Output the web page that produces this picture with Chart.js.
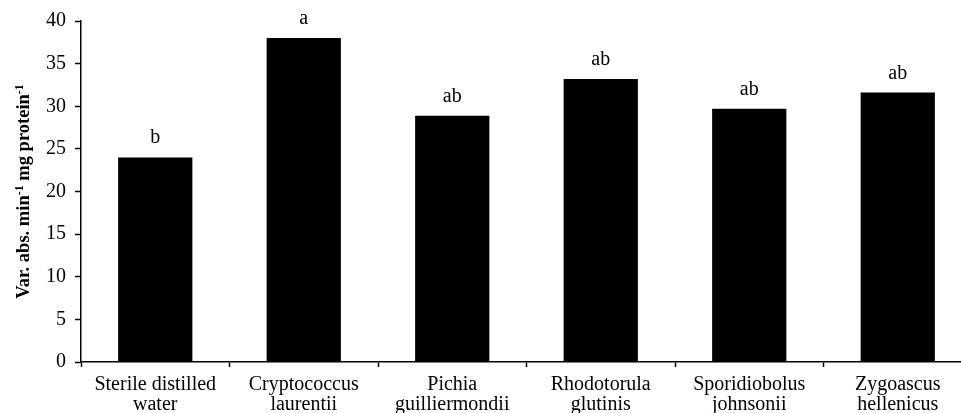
<!DOCTYPE html>
<html>
<head>
<meta charset="utf-8">
<script src="https://cdn.jsdelivr.net/npm/chart.js"></script>
<style>
  html, body { margin: 0; padding: 0; background: #fff; overflow: hidden; }
  #wrap { position: relative; width: 972px; height: 413px; }
</style>
</head>
<body>
<div id="wrap"><canvas id="chart"></canvas></div>
<script>
const categories = [
  ["Sterile distilled", "water"],
  ["Cryptococcus", "laurentii"],
  ["Pichia", "guilliermondii"],
  ["Rhodotorula", "glutinis"],
  ["Sporidiobolus", "johnsonii"],
  ["Zygoascus", "hellenicus"]
];
const values = [24.0, 38.0, 28.9, 33.2, 29.7, 31.6];
const sigLetters = ["b", "a", "ab", "ab", "ab", "ab"];
const yTicks = [0, 5, 10, 15, 20, 25, 30, 35, 40];

const serif = "'Liberation Serif', 'Times New Roman', serif";

// letters above each bar
const letterPlugin = {
  id: "letters",
  afterDatasetsDraw(chart) {
    const ctx = chart.ctx;
    const meta = chart.getDatasetMeta(0);
    ctx.save();
    ctx.font = "20px " + serif;
    ctx.fillStyle = "#000";
    ctx.textAlign = "center";
    ctx.textBaseline = "alphabetic";
    meta.data.forEach((bar, i) => {
      ctx.fillText(sigLetters[i], bar.x, bar.y - 14);
    });
    ctx.restore();
  }
};

// rotated y title with superscripts
const yTitlePlugin = {
  id: "yTitle",
  afterDraw(chart) {
    const ctx = chart.ctx;
    const area = chart.chartArea;
    const parts = [
      ["Var. abs. min", false], ["-1", true], [" mg protein", false], ["-1", true]
    ];
    const big = "bold 18.5px " + serif, small = "bold 12px " + serif;
    ctx.save();
    let total = 0;
    parts.forEach(p => { ctx.font = p[1] ? small : big; total += ctx.measureText(p[0]).width; });
    ctx.translate(29, (area.top + area.bottom) / 2);
    ctx.rotate(-Math.PI / 2);
    ctx.fillStyle = "#000";
    ctx.textBaseline = "alphabetic";
    ctx.textAlign = "left";
    let x = -total / 2;
    parts.forEach(p => {
      ctx.font = p[1] ? small : big;
      ctx.fillText(p[0], x, p[1] ? -6 : 0);
      x += ctx.measureText(p[0]).width;
    });
    ctx.restore();
  }
};

new Chart(document.getElementById("chart"), {
  type: "bar",
  data: {
    labels: categories,
    datasets: [{
      data: values,
      backgroundColor: "#000",
      borderWidth: 0,
      categoryPercentage: 1,
      barPercentage: 0.5
    }]
  },
  options: {
    responsive: true,
    maintainAspectRatio: false,
    animation: false,
    layout: { padding: { top: 21, right: 0, left: 0, bottom: 0 } },
    plugins: {
      legend: { display: false },
      tooltip: { enabled: false }
    },
    scales: {
      x: {
        offset: true,
        afterFit(scale) { scale.height = 51; },
        border: { color: "#000", width: 1.5 },
        grid: {
          offset: true,
          drawOnChartArea: false,
          drawTicks: true,
          tickLength: 5,
          tickColor: "#000",
          tickWidth: 1.5
        },
        ticks: {
          color: "#000",
          font: { family: serif, size: 20, lineHeight: 1.0 },
          padding: 8,
          maxRotation: 0,
          autoSkip: false
        }
      },
      y: {
        min: 0,
        max: 40,
        afterFit(scale) { scale.width = 81; },
        afterBuildTicks(scale) { scale.ticks = yTicks.map(v => ({ value: v })); },
        border: { color: "#000", width: 1.5 },
        grid: {
          drawOnChartArea: false,
          drawTicks: true,
          tickLength: 6,
          tickColor: "#000",
          tickWidth: 1.5
        },
        ticks: {
          color: "#000",
          font: { family: serif, size: 20 },
          padding: 9
        }
      }
    }
  },
  plugins: [letterPlugin, yTitlePlugin]
});
</script>
</body>
</html>
